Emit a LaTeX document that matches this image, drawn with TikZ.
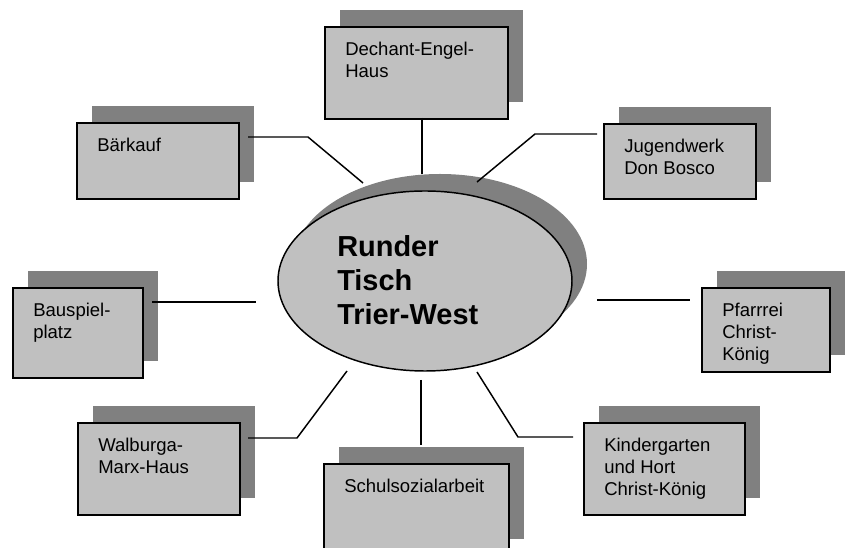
\documentclass[tikz,border=0pt]{standalone}
\usepackage{fontspec}
\setmainfont{Liberation Sans}
\usetikzlibrary{shapes.geometric}
\definecolor{boxgray}{HTML}{C0C0C0}
\definecolor{shadegray}{HTML}{808080}
\tikzset{
  box/.style={draw=black, fill=boxgray, line width=1.5pt, rectangle, inner sep=0pt, anchor=north west},
  shade/.style={fill=shadegray},
  txt/.style={anchor=north west, inner sep=0pt, align=left, font=\fontsize{13.9pt}{16.5pt}\selectfont},
  conn/.style={draw=black, line width=1.1pt},
}
\newcommand\obox[6]{%
  \fill[shade] (#2+16,#3-16) rectangle ++(#4,#5);
  \node[box, minimum width=#4*0.75pt, minimum height=#5*0.75pt] (#1) at (#2,#3) {};
  \node[txt] (#1t) at ([shift={(21,16)}]#1.north west) {#6};
}
\begin{document}
\begin{tikzpicture}[x=0.75pt, y=-0.75pt]
\useasboundingbox[fill=white] (0,0) rectangle (847,548);
% boxes
\obox{dech}{324}{26}{183}{92}{Dechant-Engel-\\Haus}
\obox{baer}{76}{122}{162}{76}{Bärkauf}
\obox{jugend}{603}{123}{152}{75}{Jugendwerk\\Don Bosco}
\obox{bau}{12}{287}{130}{90}{Bauspiel-\\platz}
\obox{pfarr}{701}{287}{128}{84}{Pfarrrei\\Christ-\\König}
\obox{walb}{77}{422}{162}{92}{Walburga-\\Marx-Haus}
\obox{schul}{323}{463}{185}{92}{Schulsozialarbeit}
\obox{kinder}{583}{422}{161}{92}{Kindergarten\\und Hort\\Christ-König}
% ellipse
\fill[shade] (440,264) ellipse [x radius=147, y radius=90];
\node[ellipse, draw=black, fill=boxgray, line width=1.1pt, minimum width=294*0.75pt, minimum height=180*0.75pt, inner sep=0pt] (rt) at (425,281) {};
\node[anchor=north west, inner sep=0pt, align=left, font=\fontsize{21.7pt}{25.5pt}\selectfont\bfseries] (rtt) at (337,235) {Runder\\Tisch\\Trier-West};
% connector end points
\coordinate (a1) at (248,137); \coordinate (a2) at (308,137); \coordinate (a3) at (363,183);
\coordinate (b1) at (422,118); \coordinate (b2) at (422,174);
\coordinate (c1) at (597,134); \coordinate (c2) at (535,134); \coordinate (c3) at (477,182);
\coordinate (d1) at (152,302); \coordinate (d2) at (256,302);
\coordinate (e1) at (597,300); \coordinate (e2) at (690,300);
\coordinate (f1) at (248,438); \coordinate (f2) at (297,438); \coordinate (f3) at (347,371);
\coordinate (g1) at (421,380); \coordinate (g2) at (421,445);
\coordinate (h1) at (477,372); \coordinate (h2) at (518,437); \coordinate (h3) at (573,437);
\draw[conn] (a1) -- (a2) -- (a3);
\draw[conn] (b1) -- (b2);
\draw[conn] (c1) -- (c2) -- (c3);
\draw[conn] (d1) -- (d2);
\draw[conn] (e1) -- (e2);
\draw[conn] (f1) -- (f2) -- (f3);
\draw[conn] (g1) -- (g2);
\draw[conn] (h1) -- (h2) -- (h3);
\end{tikzpicture}
\end{document}
